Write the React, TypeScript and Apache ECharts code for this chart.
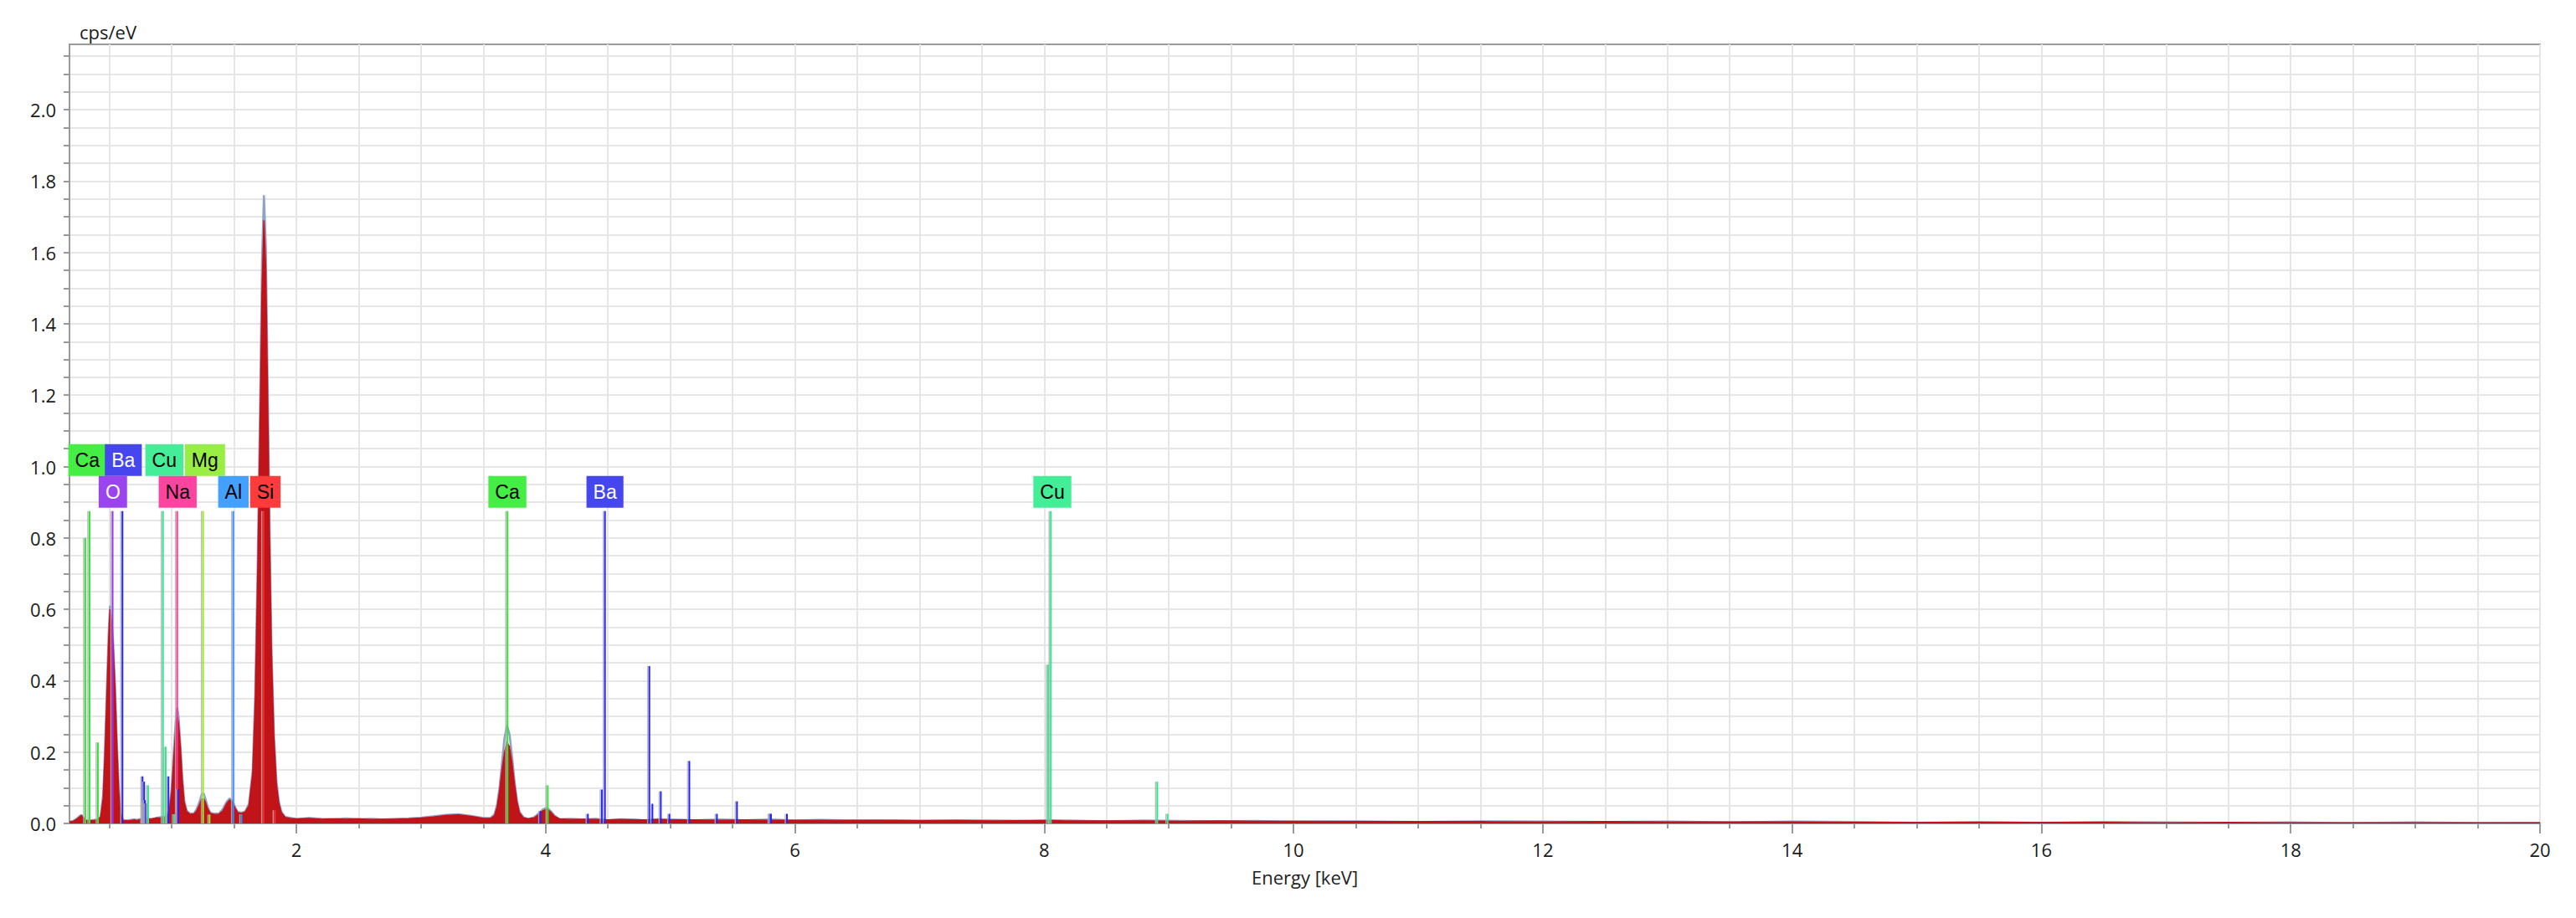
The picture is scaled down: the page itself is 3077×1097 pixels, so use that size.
import React, { useEffect, useRef } from "react";
import * as echarts from "echarts";

// Measured spectrum (red filled), [energy keV, cps/eV]
const spectrumMeasured: [number, number][] = [
  [0.18, 0.004], [0.21, 0.006], [0.24, 0.012], [0.26, 0.018], [0.275, 0.022], [0.29, 0.016],
  [0.31, 0.008], [0.34, 0.008], [0.38, 0.009], [0.41, 0.010], [0.43, 0.018], [0.45, 0.07],
  [0.465, 0.20], [0.48, 0.36], [0.495, 0.52], [0.505, 0.60], [0.515, 0.57], [0.53, 0.50],
  [0.545, 0.38], [0.56, 0.22], [0.575, 0.09], [0.59, 0.025], [0.61, 0.008], [0.65, 0.007],
  [0.70, 0.010], [0.72, 0.008], [0.76, 0.012], [0.80, 0.012], [0.84, 0.013], [0.88, 0.015],
  [0.92, 0.016], [0.96, 0.018], [0.98, 0.03], [1.00, 0.09], [1.02, 0.20], [1.035, 0.28],
  [1.045, 0.30], [1.055, 0.28], [1.07, 0.21], [1.085, 0.12], [1.10, 0.06], [1.12, 0.033],
  [1.15, 0.025], [1.18, 0.027], [1.20, 0.035], [1.22, 0.05], [1.24, 0.068], [1.255, 0.07],
  [1.27, 0.06], [1.29, 0.04], [1.31, 0.028], [1.34, 0.025], [1.38, 0.026], [1.41, 0.035],
  [1.44, 0.055], [1.465, 0.066], [1.485, 0.06], [1.51, 0.042], [1.53, 0.03], [1.56, 0.028],
  [1.59, 0.032], [1.62, 0.05], [1.65, 0.14], [1.67, 0.34], [1.69, 0.70], [1.71, 1.15],
  [1.725, 1.50], [1.74, 1.69], [1.755, 1.55], [1.77, 1.18], [1.785, 0.80], [1.80, 0.48],
  [1.82, 0.24], [1.84, 0.11], [1.86, 0.055], [1.88, 0.03], [1.91, 0.017], [1.95, 0.014],
  [2.00, 0.013], [2.1, 0.014], [2.2, 0.012], [2.3, 0.013], [2.4, 0.012], [2.5, 0.013],
  [2.6, 0.011], [2.7, 0.012], [2.8, 0.012], [2.9, 0.013], [3.0, 0.015], [3.1, 0.018],
  [3.2, 0.022], [3.3, 0.024], [3.4, 0.02], [3.5, 0.014], [3.56, 0.014], [3.59, 0.022],
  [3.61, 0.045], [3.63, 0.09], [3.65, 0.15], [3.67, 0.20], [3.69, 0.228], [3.71, 0.215],
  [3.73, 0.17], [3.75, 0.11], [3.77, 0.06], [3.79, 0.03], [3.82, 0.016], [3.86, 0.013],
  [3.91, 0.016], [3.95, 0.026], [3.98, 0.036], [4.01, 0.04], [4.04, 0.032], [4.07, 0.02],
  [4.11, 0.013], [4.2, 0.011], [4.3, 0.012], [4.4, 0.011], [4.5, 0.010], [4.6, 0.011],
  [4.7, 0.010], [4.8, 0.010], [4.9, 0.011], [5.0, 0.010], [5.2, 0.010], [5.4, 0.009],
  [5.6, 0.010], [5.8, 0.009], [6.0, 0.009], [6.2, 0.009], [6.4, 0.008], [6.6, 0.009],
  [6.8, 0.008], [7.0, 0.008], [7.3, 0.008], [7.6, 0.007], [7.9, 0.008], [8.05, 0.008],
  [8.2, 0.007], [8.5, 0.007], [8.8, 0.007], [9.1, 0.006], [9.4, 0.007], [9.7, 0.006],
  [10.0, 0.006], [10.5, 0.005], [11.0, 0.005], [11.5, 0.005], [12.0, 0.004], [12.5, 0.005],
  [13.0, 0.004], [13.5, 0.004], [14.0, 0.004], [14.5, 0.003], [15.0, 0.003], [15.5, 0.003],
  [16.0, 0.003], [16.5, 0.003], [17.0, 0.002], [17.5, 0.003], [18.0, 0.002], [18.5, 0.002],
  [19.0, 0.002], [19.5, 0.002], [20.0, 0.002],
];

// Outline spectrum (grey-blue line drawn beneath the filled one)
const spectrumOutline: [number, number][] = [
  [0.18, 0.005], [0.21, 0.007], [0.24, 0.014], [0.26, 0.02], [0.275, 0.024], [0.29, 0.017],
  [0.31, 0.009], [0.34, 0.007], [0.38, 0.010], [0.41, 0.011], [0.43, 0.02], [0.45, 0.08],
  [0.465, 0.21], [0.48, 0.38], [0.495, 0.54], [0.505, 0.61], [0.515, 0.58], [0.53, 0.51],
  [0.545, 0.39], [0.56, 0.23], [0.575, 0.10], [0.59, 0.028], [0.61, 0.009], [0.65, 0.009],
  [0.70, 0.011], [0.72, 0.010], [0.76, 0.013], [0.80, 0.014], [0.84, 0.012], [0.88, 0.016],
  [0.92, 0.018], [0.96, 0.02], [0.98, 0.035], [1.00, 0.10], [1.02, 0.22], [1.035, 0.30],
  [1.045, 0.325], [1.055, 0.30], [1.07, 0.22], [1.085, 0.13], [1.10, 0.065], [1.12, 0.036],
  [1.15, 0.027], [1.18, 0.029], [1.20, 0.04], [1.22, 0.058], [1.24, 0.08], [1.255, 0.085],
  [1.27, 0.07], [1.29, 0.045], [1.31, 0.03], [1.34, 0.027], [1.38, 0.028], [1.41, 0.04],
  [1.44, 0.06], [1.465, 0.07], [1.485, 0.064], [1.51, 0.045], [1.53, 0.032], [1.56, 0.03],
  [1.59, 0.034], [1.62, 0.055], [1.65, 0.15], [1.67, 0.36], [1.69, 0.73], [1.71, 1.20],
  [1.725, 1.58], [1.74, 1.76], [1.755, 1.62], [1.77, 1.23], [1.785, 0.83], [1.80, 0.50],
  [1.82, 0.25], [1.84, 0.12], [1.86, 0.06], [1.88, 0.033], [1.91, 0.018], [1.95, 0.016],
  [2.00, 0.012], [2.1, 0.015], [2.2, 0.013], [2.3, 0.012], [2.4, 0.014], [2.5, 0.012],
  [2.6, 0.013], [2.7, 0.011], [2.8, 0.013], [2.9, 0.014], [3.0, 0.016], [3.1, 0.02],
  [3.2, 0.024], [3.3, 0.026], [3.4, 0.021], [3.5, 0.015], [3.56, 0.016], [3.59, 0.026],
  [3.61, 0.052], [3.63, 0.10], [3.65, 0.17], [3.67, 0.24], [3.69, 0.275], [3.71, 0.25],
  [3.73, 0.19], [3.75, 0.12], [3.77, 0.065], [3.79, 0.033], [3.82, 0.018], [3.86, 0.012],
  [3.91, 0.018], [3.95, 0.03], [3.98, 0.04], [4.01, 0.044], [4.04, 0.035], [4.07, 0.022],
  [4.11, 0.012], [4.2, 0.013], [4.3, 0.011], [4.4, 0.013], [4.5, 0.009], [4.6, 0.012],
  [4.7, 0.011], [4.8, 0.009], [4.9, 0.012], [5.0, 0.011], [5.2, 0.009], [5.4, 0.011],
  [5.6, 0.009], [5.8, 0.011], [6.0, 0.008], [6.2, 0.010], [6.4, 0.009], [6.6, 0.008],
  [6.8, 0.009], [7.0, 0.007], [7.3, 0.009], [7.6, 0.008], [7.9, 0.007], [8.05, 0.009],
  [8.2, 0.008], [8.5, 0.006], [8.8, 0.008], [9.1, 0.007], [9.4, 0.006], [9.7, 0.007],
  [10.0, 0.005], [10.5, 0.006], [11.0, 0.004], [11.5, 0.006], [12.0, 0.005], [12.5, 0.004],
  [13.0, 0.005], [13.5, 0.003], [14.0, 0.005], [14.5, 0.004], [15.0, 0.002], [15.5, 0.004],
  [16.0, 0.002], [16.5, 0.004], [17.0, 0.003], [17.5, 0.002], [18.0, 0.003], [18.5, 0.001],
  [19.0, 0.003], [19.5, 0.001], [20.0, 0.002],
];

// Element marker lines: [element, energy keV, height cps/eV]
const elementLines: [string, number, number][] = [
  ["Ca", 0.307, 0.80], ["Ca", 0.341, 0.875], ["Ca", 0.408, 0.227],
  ["O", 0.526, 0.875],
  ["Ba", 0.605, 0.875],
  ["Ba", 0.766, 0.132], ["Ba", 0.772, 0.06], ["Ba", 0.779, 0.117], ["Ba", 0.786, 0.065],
  ["Ba", 0.795, 0.056], ["Cu", 0.811, 0.107],
  ["Cu", 0.930, 0.875], ["Cu", 0.952, 0.215], ["Ba", 0.974, 0.132], ["Cu", 1.02, 0.026],
  ["Na", 1.044, 0.875], ["Ba", 1.052, 0.096],
  ["Mg", 1.252, 0.875], ["Mg", 1.304, 0.025],
  ["Al", 1.494, 0.875], ["Al", 1.56, 0.026],
  ["Si", 1.736, 0.875], ["Si", 1.828, 0.037],
  ["Ca", 3.694, 0.875], ["Ba", 3.958, 0.035], ["Ca", 4.017, 0.107], ["Ba", 4.339, 0.027],
  ["Ba", 4.451, 0.095], ["Ba", 4.476, 0.875], ["Ba", 4.832, 0.441], ["Ba", 4.857, 0.055],
  ["Ba", 4.924, 0.090], ["Ba", 4.993, 0.027], ["Ba", 5.153, 0.175], ["Ba", 5.374, 0.027],
  ["Ba", 5.535, 0.062], ["Ba", 5.798, 0.027], ["Ba", 5.808, 0.027], ["Ba", 5.936, 0.027],
  ["Cu", 8.031, 0.445], ["Cu", 8.053, 0.875], ["Cu", 8.907, 0.117], ["Cu", 8.99, 0.027],
];

// Element labels: [element, energy keV, row (0 = lower, 1 = upper)]
const elementLabels: [string, number, number][] = [
  ["Ca", 0.323, 1], ["Ba", 0.612, 1], ["Cu", 0.941, 1], ["Mg", 1.267, 1],
  ["O", 0.528, 0], ["Na", 1.048, 0], ["Al", 1.495, 0], ["Si", 1.751, 0],
  ["Ca", 3.693, 0], ["Ba", 4.476, 0], ["Cu", 8.065, 0],
];

const xMinorTicks = [
  0.5, 1, 1.5, 2, 2.5, 3, 3.5, 4, 4.5, 5, 5.5, 6, 6.5, 7, 7.5, 8, 8.5, 9, 9.5, 10,
  10.5, 11, 11.5, 12, 12.5, 13, 13.5, 14, 14.5, 15, 15.5, 16, 16.5, 17, 17.5, 18, 18.5, 19, 19.5, 20,
];
const xMajorTicks = [2, 4, 6, 8, 10, 12, 14, 16, 18, 20];
const yTicks = [
  0, 0.05, 0.1, 0.15, 0.2, 0.25, 0.3, 0.35, 0.4, 0.45, 0.5, 0.55, 0.6, 0.65, 0.7, 0.75,
  0.8, 0.85, 0.9, 0.95, 1.0, 1.05, 1.1, 1.15, 1.2, 1.25, 1.3, 1.35, 1.4, 1.45, 1.5, 1.55,
  1.6, 1.65, 1.7, 1.75, 1.8, 1.85, 1.9, 1.95, 2.0, 2.05, 2.1, 2.15,
];
const yLabelValues = [0, 0.2, 0.4, 0.6, 0.8, 1.0, 1.2, 1.4, 1.6, 1.8, 2.0];

const ELEMENT_STYLE: Record<string, { line: string; box: string; text: string }> = {
  Ca: { line: "#33e833", box: "#44ee44", text: "#000000" },
  Ba: { line: "#2222ff", box: "#4646ee", text: "#ffffff" },
  O: { line: "#9933ff", box: "#9a44ee", text: "#ffffff" },
  Cu: { line: "#2ee88e", box: "#44ee99", text: "#000000" },
  Mg: { line: "#99ee22", box: "#99ee44", text: "#000000" },
  Na: { line: "#ff3399", box: "#ff44a0", text: "#000000" },
  Al: { line: "#2f8fff", box: "#44a0ff", text: "#000000" },
  Si: { line: "#ff2a2a", box: "#ff3b3b", text: "#000000" },
};

const LINE_TOP = 0.875;
const FONT = '"Open Sans", "DejaVu Sans", sans-serif';

export default function App() {
  const ref = useRef<HTMLDivElement>(null);

  useEffect(() => {
    if (!ref.current) return;
    const chart = echarts.init(ref.current, null, { renderer: "svg" });
    const axisGray = "#9a9a9a";
    const gridGray = "#e6e6e6";

    const option: any = {
      animation: false,
      backgroundColor: "#ffffff",
      grid: {
        left: 83, top: 53, right: 43, bottom: 113,
        show: true, borderColor: axisGray, borderWidth: 2, backgroundColor: "#ffffff",
      },
      xAxis: [
        {
          type: "value", min: 0.18, max: 20, position: "bottom",
          axisLine: { show: true, lineStyle: { color: axisGray, width: 2 } },
          axisTick: { show: true, customValues: xMinorTicks, length: 6, lineStyle: { color: axisGray, width: 2 } },
          axisLabel: { show: false },
          splitLine: { show: true, lineStyle: { color: gridGray, width: 2 } },
        },
        {
          type: "value", min: 0.18, max: 20, position: "bottom",
          name: "Energy [keV]", nameLocation: "middle", nameGap: 64,
          nameTextStyle: { fontFamily: FONT, fontSize: 22, color: "#222", verticalAlign: "middle" },
          axisLine: { show: false },
          axisTick: { show: true, customValues: xMajorTicks, length: 12, lineStyle: { color: axisGray, width: 2 } },
          axisLabel: {
            show: true, customValues: xMajorTicks, margin: 20,
            fontFamily: FONT, fontSize: 22, color: "#1a1a1a",
            formatter: (v: number) => String(v),
          },
          splitLine: { show: false },
        },
      ],
      yAxis: {
        type: "value", min: 0, max: 2.183,
        name: "cps/eV", nameLocation: "end", nameGap: 15,
        nameTextStyle: { fontFamily: FONT, fontSize: 22, color: "#1a1a1a", align: "left", verticalAlign: "middle", padding: [0, 0, 0, 12] },
        axisLine: { show: true, lineStyle: { color: axisGray, width: 2 } },
        axisTick: { show: true, customValues: yTicks, length: 7, lineStyle: { color: axisGray, width: 2 } },
        axisLabel: {
          show: true, customValues: yLabelValues, margin: 16,
          fontFamily: FONT, fontSize: 22, color: "#1a1a1a",
          formatter: (v: number) => v.toFixed(1),
        },
        splitLine: { show: true, lineStyle: { color: gridGray, width: 2 } },
      },
      series: [
        {
          type: "line", name: "outline", xAxisIndex: 0, data: spectrumOutline,
          showSymbol: false, symbol: "none", z: 2,
          lineStyle: { color: "#8fa2c8", width: 2.5 },
        },
        {
          type: "line", name: "spectrum", xAxisIndex: 0, data: spectrumMeasured,
          showSymbol: false, symbol: "none", z: 3,
          lineStyle: { color: "#c4121a", width: 1.5 },
          areaStyle: { color: "#c01418", opacity: 1 },
        },
        {
          type: "custom", name: "lines", xAxisIndex: 0, z: 4, clip: true,
          data: elementLines.map((d) => [d[1], d[2]]),
          encode: { x: 0, y: 1 },
          renderItem: (params: any, api: any) => {
            const el = elementLines[params.dataIndex][0];
            const st = ELEMENT_STYLE[el];
            const b = api.coord([api.value(0), 0]);
            const t = api.coord([api.value(0), api.value(1)]);
            return {
              type: "group",
              children: [
                { type: "line", shape: { x1: b[0] - 2, y1: b[1], x2: t[0] - 2, y2: t[1] }, style: { stroke: "rgba(175,175,175,0.85)", lineWidth: 1.5 } },
                { type: "line", shape: { x1: b[0], y1: b[1], x2: t[0], y2: t[1] }, style: { stroke: st.line, lineWidth: 2 } },
              ],
            };
          },
        },
        {
          type: "custom", name: "labels", xAxisIndex: 0, z: 5, clip: false,
          data: elementLabels.map((d) => [d[1], d[2]]),
          encode: { x: 0, y: 1 },
          renderItem: (params: any, api: any) => {
            const el = elementLabels[params.dataIndex][0];
            const st = ELEMENT_STYLE[el];
            const row = api.value(1);
            const p = api.coord([api.value(0), LINE_TOP]);
            const bottom = p[1] - 4 - row * 38;
            return {
              type: "text",
              x: p[0],
              y: bottom,
              style: {
                text: el,
                fill: st.text,
                font: '23px "Liberation Sans", Arial, sans-serif',
                align: "center",
                verticalAlign: "bottom",
                backgroundColor: st.box,
                padding: [7, 8, 7, 8],
                lineHeight: 24,
              },
            };
          },
        },
      ],
    };

    chart.setOption(option);
    return () => chart.dispose();
  }, []);

  return (
    <div
      ref={ref}
      style={{ position: "fixed", left: 0, top: 0, width: 3077, height: 1097, background: "#fff" }}
    />
  );
}
